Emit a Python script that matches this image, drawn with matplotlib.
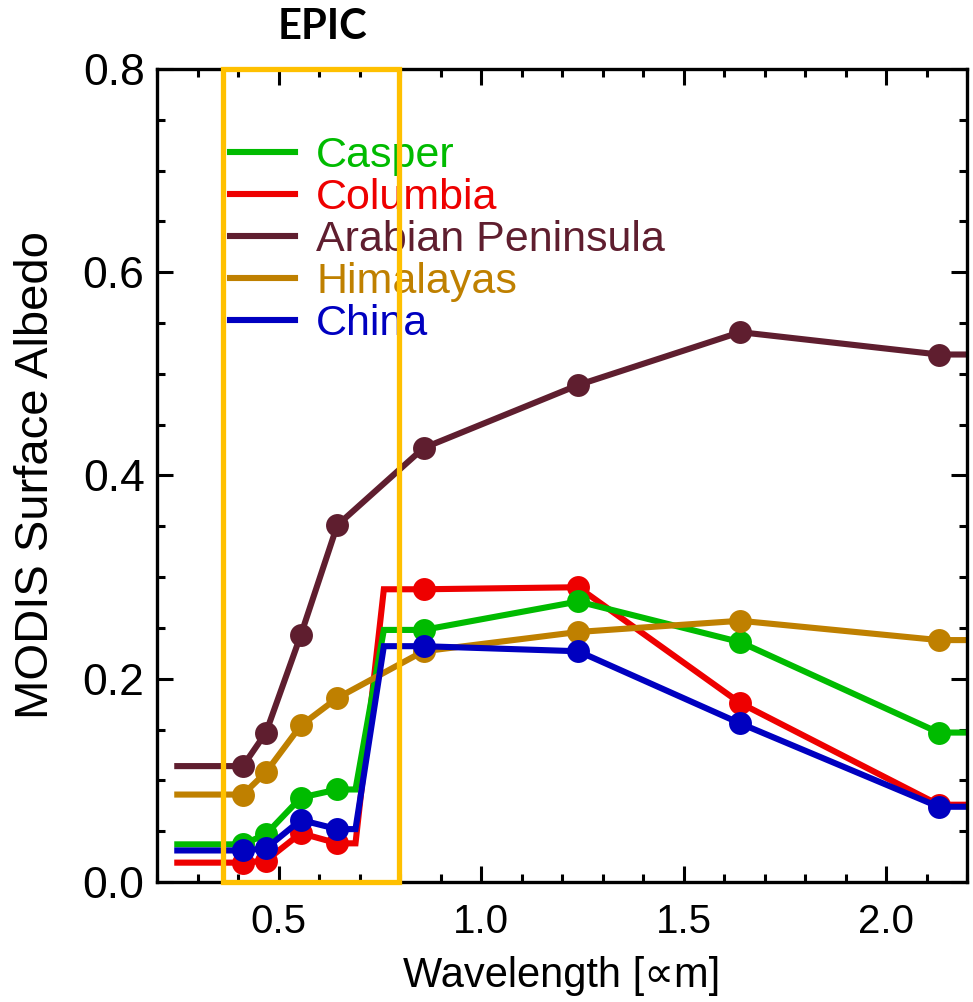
import matplotlib
matplotlib.use('Agg')
import matplotlib.pyplot as plt
from matplotlib.patches import Rectangle
from matplotlib.ticker import MultipleLocator

# MODIS band centres [um]
bands = [0.412, 0.469, 0.555, 0.645, 0.858, 1.24, 1.64, 2.13]

# albedo at each band
casper = [0.037, 0.047, 0.083, 0.091, 0.248, 0.276, 0.236, 0.147]
columbia = [0.019, 0.021, 0.048, 0.038, 0.288, 0.290, 0.176, 0.076]
arabian = [0.114, 0.147, 0.243, 0.351, 0.427, 0.489, 0.541, 0.519]
himalayas = [0.086, 0.108, 0.154, 0.181, 0.227, 0.246, 0.257, 0.238]
china = [0.031, 0.033, 0.061, 0.052, 0.232, 0.227, 0.156, 0.074]

# drawn lines (flat ends, step between 0.69 and 0.76 for three sites)
x_plain = [0.25, 0.412, 0.469, 0.555, 0.645, 0.858, 1.24, 1.64, 2.13, 2.25]
x_step = [0.25, 0.412, 0.469, 0.555, 0.645, 0.69, 0.76, 0.858, 1.24, 1.64, 2.13, 2.25]
casper_line = [0.037, 0.037, 0.047, 0.083, 0.091, 0.091, 0.248, 0.248, 0.276, 0.236, 0.147, 0.147]
columbia_line = [0.019, 0.019, 0.021, 0.048, 0.038, 0.038, 0.288, 0.288, 0.290, 0.176, 0.076, 0.076]
arabian_line = [0.114, 0.114, 0.147, 0.243, 0.351, 0.427, 0.489, 0.541, 0.519, 0.519]
himalayas_line = [0.086, 0.086, 0.108, 0.154, 0.181, 0.227, 0.246, 0.257, 0.238, 0.238]
china_line = [0.031, 0.031, 0.033, 0.061, 0.052, 0.052, 0.232, 0.232, 0.227, 0.156, 0.074, 0.074]

names = ['Casper', 'Columbia', 'Arabian Peninsula', 'Himalayas', 'China']
colors = ['#00BB00', '#EE0000', '#5F1E2F', '#BF8000', '#0000C0']

# EPIC box edges and label position [um]
epic_lo, epic_hi = 0.363, 0.797
epic_label_x = 0.609

plt.rcParams['font.family'] = ['Liberation Sans', 'DejaVu Sans']

fig = plt.figure(figsize=(9.73, 10.02), dpi=100)
ax = fig.add_axes([0.1614, 0.1198, 0.8325, 0.8114])

series = [
    (x_step, columbia_line, columbia, 1),
    (x_step, casper_line, casper, 0),
    (x_plain, arabian_line, arabian, 2),
    (x_plain, himalayas_line, himalayas, 3),
    (x_step, china_line, china, 4),
]
handles = {}
for xs, line, pts, i in series:
    h, = ax.plot(xs, line, color=colors[i], lw=4.4, label=names[i],
                 solid_joinstyle='miter')
    ax.plot(bands, pts, 'o', color=colors[i], ms=16.5, mec='none')
    handles[i] = h

ax.set_xlim(0.2, 2.2)
ax.set_ylim(0.0, 0.8)
ax.xaxis.set_major_locator(MultipleLocator(0.5))
ax.xaxis.set_minor_locator(MultipleLocator(0.1))
ax.yaxis.set_major_locator(MultipleLocator(0.2))
ax.yaxis.set_minor_locator(MultipleLocator(0.05))
ax.xaxis.set_major_formatter(plt.FormatStrFormatter('%.1f'))
ax.yaxis.set_major_formatter(plt.FormatStrFormatter('%.1f'))

ax.tick_params(which='both', direction='in', top=True, right=True, width=2.2)
ax.tick_params(which='major', length=11.5)
ax.tick_params(which='minor', length=5.8)
ax.tick_params(axis='x', labelsize=29, pad=15)
ax.tick_params(axis='y', labelsize=32, pad=9)
for s in ax.spines.values():
    s.set_linewidth(2.4)

ax.set_xlabel('Wavelength [\u221dm]', fontsize=30, labelpad=11)
ax.set_ylabel('MODIS Surface Albedo', fontsize=34, labelpad=18)

leg = ax.legend([handles[i] for i in range(5)], names, loc='upper left',
                bbox_to_anchor=(0.090, 0.918), frameon=False, fontsize=31,
                handlelength=1.5, handletextpad=0.5, labelspacing=0.05,
                borderpad=0, borderaxespad=0, labelcolor='linecolor')

# EPIC band box
ax.add_patch(Rectangle((epic_lo, 0.0), epic_hi - epic_lo, 0.8, fill=False,
                       edgecolor='#FFC000', lw=3.8, clip_on=False, zorder=10))
ax.annotate('EPIC', xy=(epic_label_x, 1.052),
            xycoords=('data', 'axes fraction'), ha='center', va='center',
            fontsize=30, fontweight='bold', family='Lato')

fig.savefig('out.png', dpi=100)
